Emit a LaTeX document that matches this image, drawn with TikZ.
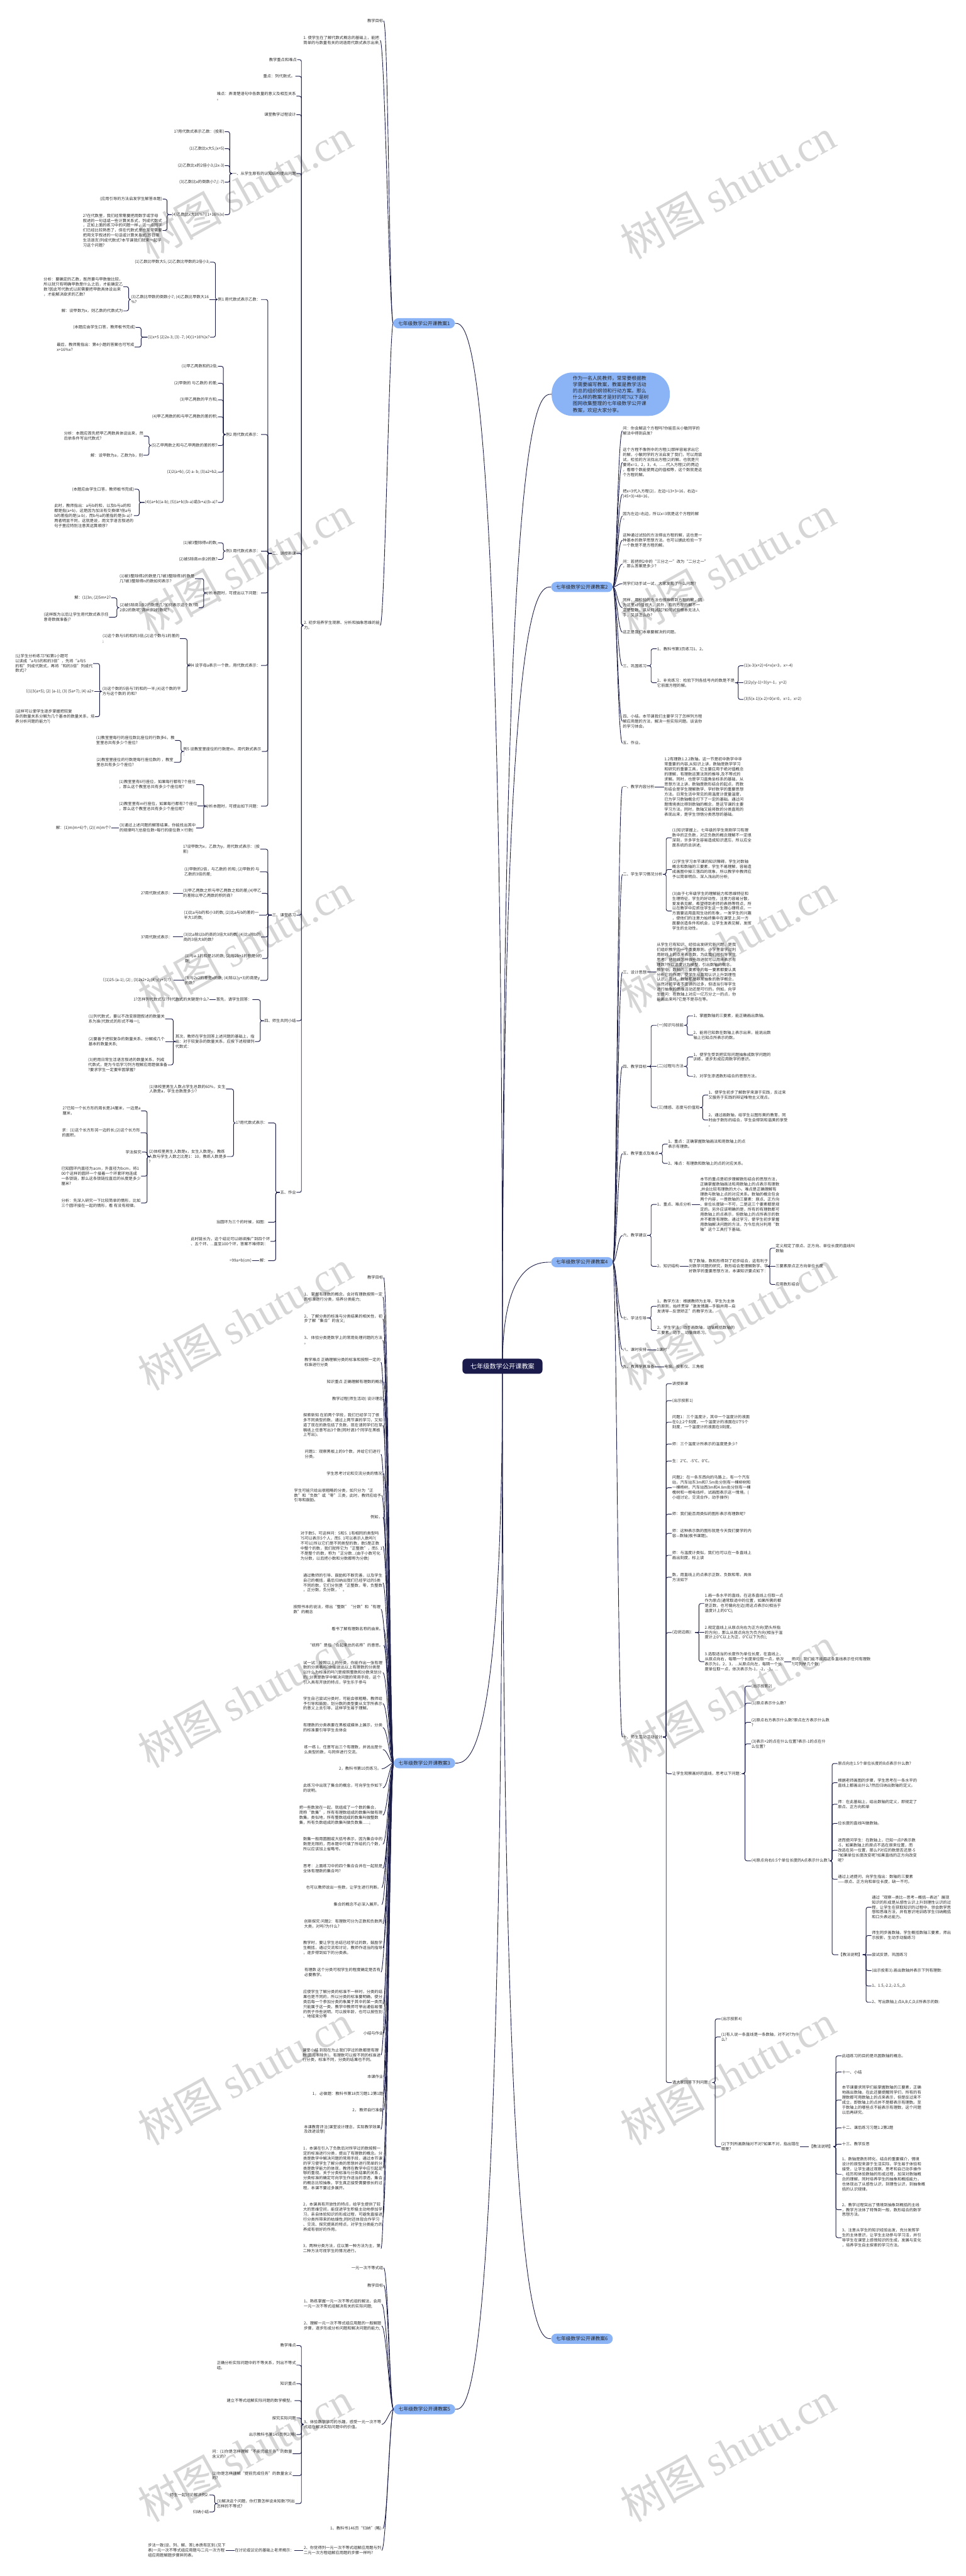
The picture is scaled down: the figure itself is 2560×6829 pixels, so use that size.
\documentclass[tikz,border=0pt]{standalone}
\usepackage{fontspec}
\usetikzlibrary{backgrounds}
\newfontfamily\cjk{Noto Sans CJK SC}
\newfontfamily\wmfont{Liberation Serif}
\definecolor{linec}{RGB}{28,30,72}
\definecolor{pillc}{RGB}{139,180,247}
\definecolor{cenc}{RGB}{26,27,75}
\definecolor{txtc}{RGB}{45,45,45}
\definecolor{wmc}{RGB}{214,214,214}
\tikzset{
  tx/.style={font=\cjk\fontsize{10.5}{13.2}\selectfont, align=left, inner sep=1pt, text=txtc},
  lt/.style={tx, anchor=east},
  rt/.style={tx, anchor=west},
  pill/.style={fill=pillc, rounded corners=13.5pt, minimum height=27pt, inner xsep=13pt, inner ysep=0pt, font=\cjk\fontsize{13}{15}\selectfont, text=black!85},
  conn/.style={draw=linec, line width=1.6pt, rounded corners=5pt},
  curv/.style={draw=linec, line width=1.5pt},
  wmk/.style={rotate=29, text=wmc, inner sep=0pt},
}
\newcommand\LB[3]{\draw[conn] (#1.west) -- (#3,0 |- #1.west) |- (#2.east);}
\newcommand\RB[3]{\draw[conn] (#1.east) -- (#3,0 |- #1.east) |- (#2.west);}
\newcommand\LS[2]{\draw[conn] (#1.west) -- (#2.east);}
\newcommand\RS[2]{\draw[conn] (#1.east) -- (#2.west);}
\newcommand\LC[2]{\draw[curv] (#1.west) .. controls +(-10,0) and +(12,0) .. (#2.east);}
\newcommand\RC[2]{\draw[curv] (#1.east) .. controls +(10,0) and +(-12,0) .. (#2.west);}
\begin{document}
\begin{tikzpicture}[x=1pt,y=-1pt]
\useasboundingbox (0,0) rectangle (2560,6829);
% ---------- central, pills, bubble
\node[fill=cenc, rounded corners=10pt, text=white, minimum height=40pt, inner xsep=21pt, font=\cjk\fontsize{17}{19}\selectfont] (C) at (1332,3622) {七年级数学公开课教案};
\node[pill, anchor=east] (P1) at (1206,857) {七年级数学公开课教案1};
\node[pill, anchor=east] (P3) at (1207,4674) {七年级数学公开课教案3};
\node[pill, anchor=east] (P5) at (1207,6387) {七年级数学公开课教案5};
\node[pill, anchor=west] (P2) at (1461,1556) {七年级数学公开课教案2};
\node[pill, anchor=west] (P4) at (1461,3346) {七年级数学公开课教案4};
\node[pill, anchor=west] (P6) at (1461,6200) {七年级数学公开课教案6};
\node[fill=pillc, rounded corners=55pt, minimum height=115pt, inner xsep=56pt, align=left, text=black!85, font=\cjk\fontsize{13}{17}\selectfont] (BB) at (1619,1045) {作为一名人民教师，常常要根据教\\学需要编写教案，教案是教学活动\\的总的组织纲领和行动方案。那么\\什么样的教案才是好的呢?以下是树\\图网收集整理的七年级数学公开课\\教案，欢迎大家分享。};

% ---------- branch 1
\node[lt] (b1) at (1017,55) {教学目标};
\node[lt] (b2) at (1008,107) {1. 使学生在了解代数式概念的基础上，能把\\简单的与数量有关的词语用代数式表示出来;};
\node[lt] (b3) at (1008,1658) {2. 初步培养学生观察、分析和抽象思维的能\\力。};
\node[lt] (c1) at (788,158) {教学重点和难点};
\node[lt] (c2) at (783,202) {重点：列代数式。};
\node[lt] (c3) at (786,255) {难点：弄清楚语句中各数量的意义及相互关系\\。};
\node[lt] (c4) at (786,304) {课堂教学过程设计};
\node[lt] (c5) at (786,460) {一、从学生原有的认知结构提出问题};
\node[lt] (c6) at (786,1467) {二、讲授新课};
\node[lt] (c7) at (786,2426) {三、课堂练习};
\node[lt] (c8) at (786,2706) {四、师生共同小结};
\node[lt] (c9) at (786,3161) {五、作业};
\node[lt] (d1) at (596,349) {1?用代数式表示乙数：(投影)};
\node[lt] (d2) at (596,394) {(1)乙数比x大5;(x+5)};
\node[lt] (d3) at (596,439) {(2)乙数比x的2倍小3;(2x-3)};
\node[lt] (d4) at (596,483) {(3)乙数比x的倒数小7;( -7)};
\node[lt] (d5) at (596,569) {(4)乙数比x大16\%?((1+16\%)x)};
\node[lt] (e1) at (431,528) {(应用引导的方法启发学生解答本题)};
\node[lt] (e2) at (431,611) {2?在代数里，我们经常需要把用数字或字母\\叙述的一句话或一些计算关系式，列成代数式\\，正如上面的练习中的问题一样，这一点同学\\们已经比较熟悉了，但在代数式里也常常需要\\把用文字叙述的一句话或计算关系式(即日常\\生活语言)列成代数式?本节课我们就来一起学\\习这个问题?};
\node[lt] (f1) at (692,794) {例1 用代数式表示乙数：};
\node[lt] (f2) at (692,1152) {例2 用代数式表示：};
\node[lt] (f3) at (692,1461) {例3 用代数式表示：};
\node[lt] (f4) at (692,1572) {分析本题时，可提出以下问题：};
\node[lt] (f5) at (692,1764) {例4 设字母a表示一个数，用代数式表示：};
\node[lt] (f6) at (694,1992) {例5 设教室里座位的行数是m，用代数式表示\\：};
\node[lt] (f7) at (692,2137) {分析本题时，可提出如下问题：};
\node[lt] (g1) at (557,695) {(1)乙数比甲数大5; (2)乙数比甲数的2倍小3;};
\node[lt] (g2) at (555,794) {(3)乙数比甲数的倒数小7; (4)乙数比甲数大16\\\%?};
\node[lt] (g3) at (557,894) {(1)x+5 (2)2x-3; (3) -7; (4)(1+16\%)x?};
\node[lt] (h1) at (327,760) {分析：要确定的乙数，既然要与甲数做比较，\\所以就只有明确甲数是什么之后，才能确定乙\\数?因此写代数式以前需要把甲数具体设出来\\，才能解决欲求的乙数?};
\node[lt] (h2) at (327,824) {解：设甲数为x，则乙数的代数式为};
\node[lt] (h3) at (360,868) {(本题应由学生口答，教师板书完成)};
\node[lt] (h4) at (357,920) {最后，教师需指出：第4小题的答案也可写成\\x+16\%x?};
\node[lt] (g4) at (578,971) {(1)甲乙两数和的2倍;};
\node[lt] (g5) at (578,1016) {(2)甲数的 与乙数的 的差;};
\node[lt] (g6) at (578,1060) {(3)甲乙两数的平方和;};
\node[lt] (g7) at (578,1105) {(4)甲乙两数的和与甲乙两数的差的积;};
\node[lt] (g8) at (578,1181) {(5)乙甲两数之和与乙甲两数的差的积?};
\node[lt] (g9) at (578,1252) {(1)2(a+b); (2) a- b; (3)a2+b2;};
\node[lt] (g10) at (578,1332) {(4)(a+b)(a-b); (5)(a+b)(b-a)或(b+a)(b-a)?};
\node[lt] (h5) at (381,1156) {分析：本题应首先把甲乙两数具体设出来，然\\后依条件写出代数式?};
\node[lt] (h6) at (380,1207) {解：设甲数为a，乙数为b，则};
\node[lt] (h7) at (357,1297) {(本题应由学生口答，教师板书完成)};
\node[lt] (h8) at (355,1367) {此时，教师指出：a与b的和，以及b与a的和\\都是指(a+b)，这是因为加法有交换律?但a与\\b的差指的是(a-b)，而b与a的差指的是(b-a)?\\两者明显不同，这就是说，用文字语言叙述的\\句子里应特别注意其运算顺序?};
\node[lt] (g11) at (578,1439) {(1)被3整除得n的数;};
\node[lt] (g12) at (578,1483) {(2)被5除商m余2的数?};
\node[lt] (g13) at (517,1534) {(1)被3整除得2的数是几?被3整除得3的数是\\几?被3整除得n的数如何表示?};
\node[lt] (g14) at (527,1611) {(2)被5除商1余2的数是几?如何表示这个数?商\\2余2的数呢?商m余2的数呢?};
\node[lt] (h9) at (295,1585) {解：(1)3n; (2)5m+2?};
\node[lt] (h10) at (289,1636) {(这样既为以后让学生用代数式表示任\\意奇数做准备)?};
\node[lt] (g15) at (477,1693) {(1)这个数与5的和的3倍;(2)这个数与1的差的\\;};
\node[lt] (g16) at (481,1833) {(3)这个数的5倍与7的和的一半;(4)这个数的平\\方与这个数的 的和?};
\node[lt] (h11) at (247,1759) {(让学生分析练习?如第1小题可\\以读成“a与5的和的3倍”，先将“a与5\\的和”列成代数式，再将“和的3倍”列成代\\数式)?};
\node[lt] (h12) at (250,1833) {〔(1)3(a+5); (2) (a-1); (3) (5a+7); (4) a2+};
\node[lt] (h13) at (252,1900) {(这样可以使学生逐步掌握把较复\\杂的数量关系分解为几个基本的数量关系，培\\养分析问题的能力?)};
\node[lt] (g17) at (464,1963) {(1)教室里每行的座位数比座位的行数多6，教\\室里总共有多少个座位?};
\node[lt] (g18) at (461,2021) {(2)教室里座位的行数是每行座位数的 ，教室\\里总共有多少个座位?};
\node[lt] (g19) at (520,2080) {(1)教室里有6行座位，如果每行都有7个座位\\，那么这个教室总共有多少个座位呢?};
\node[lt] (g20) at (524,2137) {(2)教室里有m行座位，如果每行都有7个座位\\，那么这个教室总共有多少个座位呢?};
\node[lt] (g21) at (520,2195) {(3)通过上述问题的解答结果，你能找出其中\\的规律吗?(总座位数=每行的座位数×行数)};
\node[lt] (h14) at (295,2195) {解：(1)m(m+6)个; (2)( m)m个?};
\node[lt] (i1) at (690,2251) {1?设甲数为x，乙数为y，用代数式表示：(投\\影)};
\node[lt] (i2) at (689,2311) {(1)甲数的2倍，与乙数的 的和; (2)甲数的 与\\乙数的3倍的差;};
\node[lt] (i3) at (694,2368) {(3)甲乙两数之积与甲乙两数之和的差;(4)甲乙\\的差除以甲乙两数的积的商?};
\node[lt] (i4) at (687,2426) {(1)比a与b的和小3的数; (2)比a与b的差的一\\半大1的数;};
\node[lt] (i5) at (692,2484) {(3)比a除以b的商的3倍大8的数; (4)比a除b的\\商的3倍大8的数?};
\node[lt] (i6) at (695,2541) {(1)与a-1的和是25的数; (2)与2b+1的积是9的\\数;};
\node[lt] (i7) at (690,2599) {(3)与2x2的差是x的数; (4)除以(y+3)的商是y\\的数?};
\node[lt] (j1) at (459,2368) {2?用代数式表示：};
\node[lt] (j2) at (459,2484) {3?用代数式表示：};
\node[lt] (j3) at (460,2599) {〔(1)25-(a-1); (2) ; (3)2x2+2; (4)y(y+3)?〕};
\node[lt] (k1) at (669,2650) {首先，请学生回答：};
\node[lt] (k1a) at (555,2650) {1?怎样列代数式?2?列代数式的关键是什么?};
\node[lt] (k2) at (676,2761) {其次，教师在学生回答上述问题的基础上，指\\出：对于较复杂的数量关系，应按下述规律列\\代数式：};
\node[lt] (k2a) at (438,2701) {(1)列代数式，要以不改变原题叙述的数量关\\系为准(代数式的形式不唯一);};
\node[lt] (k2b) at (438,2761) {(2)要善于把较复杂的数量关系，分解成几个\\基本的数量关系;};
\node[lt] (k2c) at (445,2823) {(3)把用日常生活语言叙述的数量关系，列成\\代数式，是为今后学习列方程解应用题做准备\\?要求学生一定要牢固掌握?};
\node[lt] (l1) at (711,2977) {1?用代数式表示：};
\node[lt] (l1a) at (599,2887) {(1)体校里男生人数占学生总数的60\%，女生\\人数是a，学生总数是多少?};
\node[lt] (l1b) at (602,3066) {(2)体校里男生人数是x，女生人数是y，教练\\人数与学生人数之比是1：10，教练人数是多\\?};
\node[lt] (m1) at (374,2945) {2?已知一个长方形的周长是24厘米，一边是a\\厘米，};
\node[lt] (m2) at (373,3003) {求：(1)这个长方形另一边的长;(2)这个长方形\\的面积。};
\node[lt] (m3) at (376,3054) {学法探究};
\node[lt] (m4) at (374,3118) {已知圆环内直径为acm，外直径为bcm，将1\\00个这样的圆环一个接着一个环套环地连成\\一条锁链，那么这条锁链拉直后的长度是多少\\厘米?};
\node[lt] (m5) at (374,3189) {分析：先深入研究一下比较简单的情形，比如\\三个圆环接在一起的情形，看 有没有规律。};
\node[lt] (l2) at (711,3240) {当圆环为三个的时候，如图：};
\node[lt] (l3) at (717,3291) {此时链长为，这个结论可以继续推广到四个环\\、五个环、...直至100个环，答案不难得到：};
\node[lt] (l4) at (711,3342) {解：};
\node[lt] (l4a) at (668,3342) {=99a+b(cm)};

% ---------- branch 3
\node[lt] (q1) at (1017,3387) {教学目标};
\node[lt] (q2) at (1015,3438) {1、 掌握有理数的概念，会对有理数按照一定\\的标准进行分类，培养分类能力;};
\node[lt] (q3) at (1015,3496) {2、 了解分类的标准与分类结果的相关性，初\\步了解“集合”的含义;};
\node[lt] (q4) at (1015,3553) {3、 体验分类是数学上的常用处理问题的方法\\。};
\node[lt] (q5) at (1010,3611) {教学难点 正确理解分类的标准和按照一定的\\标准进行分类};
\node[lt] (q6) at (1017,3663) {知识重点 正确理解有理数的概念};
\node[lt] (q7) at (1017,3708) {教学过程(师生活动) 设计理念};
\node[lt] (q8) at (1015,3778) {探索新知 在前两个学段，我们已经学习了很\\多不同类型的数，通过上两节课的学习，又知\\道了现在的数包括了负数，现在请同学们在草\\稿纸上任意写出3个数(同时请3个同学在黑板\\上写出)。};
\node[lt] (q9) at (1010,3855) {问题1：观察黑板上的9个数，并给它们进行\\分类。};
\node[lt] (q10) at (1017,3906) {学生思考讨论和交流分类的情况.};
\node[lt] (q11) at (1012,3964) {学生可能只给出很粗略的分类，如只分为“正\\数”和“负数”或“零”三类，此时，教师应给予\\引导和鼓励。};
\node[lt] (q12) at (1015,4022) {例如，};
\node[lt] (q13) at (1015,4099) {对于数5，可这样问：5和5. 1有相同的类型吗\\?5可以表示5个人，而5. 1可以表示人数吗?(\\不可以)所以它们是不同类型的数，数5是正数\\中整个的数，我们就称它为“正整数”，而5. 1\\不是整个的数，称为“正分数...(由于小数可化\\为分数，以后把小数和分数都称为分数)};
\node[lt] (q14) at (1015,4196) {通过教师的引导、鼓励和不断完善，以及学生\\自己的概括，最后归纳出我们已经学过的5类\\不同的数，它们分别是“正整数，零，负整数\\，正分数，负分数，’。};
\node[lt] (q15) at (1010,4266) {按照书本的说法，得出“整数”“分数”和“有理\\数”的概念};
\node[lt] (q16) at (1017,4318) {看书了解有理数名称的由来。};
\node[lt] (q17) at (1017,4362) {“统称”是指“合起来总的名称”的意思。};
\node[lt] (q18) at (1015,4434) {试一试：按照以上的分类，你能作出一张有理\\数的分类表吗?你能说出以上有理数的分类是\\以什么为标准的吗?(是按照整数和分数来划分\\的) 分类是数学中解决问题的常用手段，这个\\引入具有开放的特点，学生乐于参与};
\node[lt] (q19) at (1015,4516) {学生自己尝试分类时，可能会很粗略，教师给\\予引导和鼓励，划分数的类型要从文字所表示\\的意义上去引导，这样学生易于理解。};
\node[lt] (q20) at (1015,4580) {有理数的分类表要在黑板或媒体上展示，分类\\的标准要引导学生去体会};
\node[lt] (q21) at (1015,4638) {练一练 1，任意写出三个有理数，并说出是什\\么类型的数，与同伴进行交流。};
\node[lt] (q22) at (1012,4689) {2，教科书第10页练习。};
\node[lt] (q23) at (1015,4740) {此练习中出现了集合的概念，可向学生作如下\\的说明。};
\node[lt] (q24) at (1015,4812) {把一些数放在一起，就组成了一个数的集合，\\简称“数集”，所有有理数组成的数集叫做有理\\数集。类似地，所有整数组成的数集叫做整数\\集，所有负数组成的数集叫做负数集......;};
\node[lt] (q25) at (1015,4889) {数集一般用圆圈或大括号表示，因为集合中的\\数是无限的，而本题中只填了所给的几个数，\\所以应该加上省略号。};
\node[lt] (q26) at (1015,4953) {思考：上面练习中的四个集合合并在一起就是\\全体有理数的集合吗?};
\node[lt] (q27) at (1012,5004) {也可以教师说出一些数，让学生进行判断。};
\node[lt] (q28) at (1012,5049) {集合的概念不必深入展开。};
\node[lt] (q29) at (1015,5100) {创新探究 问题2：有理数可分为正数和负数两\\大类，对吗?为什么?};
\node[lt] (q30) at (1015,5164) {教学时，要让学生总结已经学过的数，鼓励学\\生概括，通过交流和讨论，教师作适当的指导\\，逐步得到如下的分类表。};
\node[lt] (q31) at (1010,5228) {有理数 这个分类可视学生的程度确定是否有\\必要教学。};
\node[lt] (q32) at (1015,5313) {应使学生了解分类的标准不一样时，分类的结\\果也是不同的，所以分类的标准要明确，使分\\类后每一个参加分类的象属于其中的某一类而\\只能属于这一类，教学中教师可举出通俗易懂\\的例子作些说明，可以按年龄，也可以按性别\\、地域来分等};
\node[lt] (q33) at (1017,5390) {小结与作业};
\node[lt] (q34) at (1010,5448) {课堂小结 到现在为止我们学过的数都是有理\\数(圆周率除外)，有理数可以按不同的标准进\\行分类，标准不同，分类的结果也不同。};
\node[lt] (q35) at (1017,5505) {本课作业};
\node[lt] (q36) at (1017,5550) {1， 必做题：教科书第18页习题1.2第1题};
\node[lt] (q37) at (1017,5594) {2， 教师自行准备};
\node[lt] (q38) at (1010,5645) {本课教育评注(课堂设计理念，实际教学效果\\及改进设想)};
\node[lt] (q39) at (1015,5748) {1，本课在引入了负数后对所学过的数按照一\\定的标准进行分类，提出了有理数的概念。分\\类是数学中解决问题的常用手段，通过本节课\\的学习使学生了解分类的思想并进行简单的分\\类是数学能力的体现，教师在教学中应引起足\\够的重视。关于分类标准与分类结果的关系，\\分类标准的确定可向学生作适当的渗透，集合\\的概念比较抽象，学生真正接受需要很长的过\\程，本课不要过多展开。};
\node[lt] (q40) at (1015,5877) {2，本课具有开放性的特点，给学生提供了较\\大的思维空间，能促进学生积极主动地参加学\\习，亲自体验知识的形成过程，可避免直接进\\行分类所带来的枯燥性;同时还体现合作学习\\、交流、探究提高的特点，对学生分类能力的\\养成有很好的作用。};
\node[lt] (q41) at (1010,5961) {3，两种分类方法，应以第一种方法为主，第\\二种方法可视学生的情况进行。};

% ---------- branch 5
\node[lt] (r1) at (1017,6012) {一元一次不等式组};
\node[lt] (r2) at (1017,6058) {教学目标};
\node[lt] (r3) at (1012,6108) {1、熟练掌握一元一次不等式组的解法，会用\\一元一次不等式组解决有关的实际问题;};
\node[lt] (r4) at (1012,6166) {2、理解一元一次不等式组应用题的一般解题\\步骤，逐步形成分析问题和解决问题的能力;};
\node[lt] (r5) at (1012,6427) {3、体验数学学习的乐趣，感受一元一次不等\\式组在解决实际问题中的价值。};
\node[lt] (r6) at (1015,6703) {1、教科书146页“归纳”(略).};
\node[lt] (r7) at (1012,6761) {2、你觉得列一元一次不等式组解应用题与列\\二元一次方程组解应用题的步骤一样吗?};
\node[lt] (s1) at (786,6218) {教学难点};
\node[lt] (s2) at (786,6270) {正确分析实际问题中的不等关系，列出不等式\\组。};
\node[lt] (s3) at (786,6319) {知识重点};
\node[lt] (s4) at (781,6364) {建立不等式组解实际问题的数学模型。};
\node[lt] (s5) at (786,6410) {探究实际问题};
\node[lt] (s6) at (786,6454) {出示教科书第145页例2(略)};
\node[lt] (s7) at (776,6505) {问：(1)你是怎样理解“不能完成任务”的数量\\含义的?};
\node[lt] (s8) at (776,6563) {(2)你是怎样理解“提前完成任务”的数量含义\\的?};
\node[lt] (s9) at (783,6637) {(3)解决这个问题，你打算怎样设未知数?列出\\怎样的不等式?};
\node[lt] (s10) at (555,6614) {师生一起讨论解决例2.};
\node[lt] (s11) at (555,6659) {归纳小结};
\node[lt] (o1) at (781,6761) {在讨论或议论的基础上老师揭示：};
\node[lt] (o2) at (599,6761) {步法一致(设、列、解、答);本质有区别.(见下\\表)一元一次不等式组应用题与二元一次方程\\组应用题解题步骤异同表。};

% ---------- branch 2
\node[rt] (u1) at (1650,1142) {问：你会解这个方程吗?你能否从小敏同学的\\解法中得到启发?};
\node[rt] (u2) at (1650,1226) {这个方程不像例中的方程(1)那样容易求出它\\的解，小敏同学的方法启发了我们，可以用尝\\试，检验的方法找出方程(2)的解。也就是只\\要将x=1，2，3，4，......代入方程(2)的两边\\，看哪个数能使两边的值相等，这个数就是这\\个方程的解。};
\node[rt] (u3) at (1650,1310) {把x=3代入方程(2)，左边=13+3=16，右边=\\(45+3)=48=16，};
\node[rt] (u4) at (1650,1368) {因为左边=右边，所以x=3就是这个方程的解\\。};
\node[rt] (u5) at (1650,1432) {这种通过试验的方法得出方程的解，这也是一\\种基本的数学思想方法。也可以据此检验一下\\一个数是不是方程的解。};
\node[rt] (u6) at (1650,1495) {问：若把例2中的“三分之一”改为“二分之一”\\，那么答案是多少?};
\node[rt] (u7) at (1650,1547) {同学们动手试一试，大家发现了什么问题?};
\node[rt] (u8) at (1650,1611) {同样，用检验的方法也很难得到方程的解，因\\为这里x的值很大。另外，有的方程的解不一\\定是整数，该从何试起?如何试验根本无法人\\手，又该怎么办?};
\node[rt] (u9) at (1650,1676) {这正是我们本章要解决的问题。};
\node[rt] (u10) at (1650,1765) {三、巩固练习};
\node[rt] (u11) at (1650,1912) {四、小结。本节课我们主要学习了怎样列方程\\解应用题的方法，解决一些实际问题。谈谈你\\的学习体会。};
\node[rt] (u12) at (1650,1970) {五、作业。};
\node[rt] (v1) at (1741,1720) {1、教科书第3页练习1、2。};
\node[rt] (v2) at (1741,1810) {2、补充练习：检验下列各括号内的数是不是\\它前面方程的解。};
\node[rt] (v3) at (1971,1765) {(1)x-3(x+2)=6+x(x=3，x=-4)};
\node[rt] (v4) at (1971,1810) {(2)2y(y-1)=3(y=-1，y=2)};
\node[rt] (v5) at (1971,1854) {(3)5(x-1)(x-2)=0(x=0，x=1，x=2)};

% ---------- branch 4
\node[rt] (w1) at (1650,2086) {一、教学内容分析};
\node[rt] (w1a) at (1760,2086) {1.2有理数1.2.2数轴。这一节是初中数学中非\\常重要的内容,从知识上讲，数轴是数学学习\\和研究的重要工具，它主要应用于绝对值概念\\的理解，有理数运算法则的推导,及不等式的\\求解。同时，也是学习直角坐标系的基础，从\\思想方法上讲，数轴是数形结合的起点，而数\\形结合是学生理解数学、学好数学的重要思想\\方法。日常生活中常见的用温度计度量温度，\\已为学习数轴概念打下了一定的基础。通过问\\题情境类比得到数轴的概念，是这节课的主要\\学习方法。同时，数轴又能将数的分类直观的\\表现出来，是学生领悟分类思想的基础。};
\node[rt] (w2) at (1650,2318) {二、学生学习情况分析};
\node[rt] (w2a) at (1781,2221) {(1)知识掌握上，七年级的学生刚刚学习有理\\数中的正负数，对正负数的概念理解不一定很\\深刻，许多学生容易造成知识遗忘，所以应全\\面系统的去讲述;};
\node[rt] (w2b) at (1781,2305) {(2)学生学习本节课的知识障碍。学生对数轴\\概念和数轴的三要素，学生不易理解，容易造\\成画图中掉三落四的现象，所以教学中教师应\\予以简单明白、深入浅出的分析;};
\node[rt] (w2c) at (1781,2415) {(3)由于七年级学生的理解能力和思维特征和\\生理特征，学生的好动性，注意力容易分散，\\爱发表见解，希望得到老师的表扬等特点，所\\以在教学中应抓住学生这一生理心理特点，一\\方面要运用直观生动的形象，一发学生的兴趣\\，使他们的注意力始终集中在课堂上;另一方\\面要创造条件和机会，让学生发表见解，发挥\\学生的主动性。};
\node[rt] (w3) at (1650,2577) {三、设计思想};
\node[rt] (w3a) at (1740,2577) {从学生已有知识、经验出发研究新问题，是我\\们组织教学的一个重要原则。小学里曾学过利\\用射线上的点来表示数，为此我们可引导学生\\思考：把射线怎样做些改进就可以用来表示有\\理数?作以温度计为模型，引出数轴的概念。\\教学中，数轴的三要素中的每一要素都要认真\\分析它的作用，使学生从直观认识上升到理性\\认识。直线、数轴都是非常抽象的数学概念，\\当然对初学者不宜讲的过多，但适当引导学生\\进行抽象的思维活动还是可行的。例如，向学\\生提问：在数轴上对应一亿万分之一的点，你\\能画出来吗?它是不是存在等。};
\node[rt] (w4) at (1650,2827) {四、教学目标};
\node[rt] (w4a) at (1741,2718) {(一)知识与技能};
\node[rt] (w4b) at (1741,2827) {(二)过程与方法};
\node[rt] (w4c) at (1741,2936) {(三)情感、态度与价值观};
\node[rt] (w4a1) at (1837,2693) {1、掌握数轴的三要素，能正确画出数轴。};
\node[rt] (w4a2) at (1837,2744) {2、能将已知数在数轴上表示出来，能说出数\\轴上已知点所表示的数。};
\node[rt] (w4b1) at (1837,2802) {1、使学生受到把实际问题抽象成数学问题的\\训练，逐步形成应用数学的意识。};
\node[rt] (w4b2) at (1837,2853) {2、对学生渗透数形结合的思想方法。};
\node[rt] (w4c1) at (1877,2903) {1、使学生初步了解数学来源于实践，反过来\\又服务于实践的辩证唯物主义观点。};
\node[rt] (w4c2) at (1877,2969) {2、通过画数轴，给学生以图形美的教育，同\\时由于数形的结合，学生会得到和谐美的享受\\。};
\node[rt] (w5) at (1650,3058) {五、教学重点及难点};
\node[rt] (w5a) at (1770,3033) {1、重点：正确掌握数轴画法和用数轴上的点\\表示有理数。};
\node[rt] (w5b) at (1770,3084) {2、难点：有理数和数轴上的点的对应关系。};
\node[rt] (w6) at (1650,3275) {六、教学建议};
\node[rt] (w6a) at (1741,3193) {1、重点、难点分析};
\node[rt] (w6a1) at (1855,3193) {本节的重点是初步理解数形结合的思想方法，\\正确掌握数轴画法和用数轴上的点表示有理数\\,并会比较有理数的大小。难点是正确理解有\\理数与数轴上点的对应关系。数轴的概念包含\\两个内容，一是数轴的三要素：原点、正方向\\、单位长度缺一不可，二是这三个要素都是规\\定的。另外应该明确的是，所有的有理数都可\\用数轴上的点表示，但数轴上的点所表示的数\\并不都是有理数。通过学习，使学生初步掌握\\用数轴解决问题的方法，为今后充分利用“数\\轴”这个工具打下基础。};
\node[rt] (w6b) at (1741,3357) {2、知识结构};
\node[rt] (w6b1) at (1825,3357) {有了数轴，数和形得到了初步结合，这有利于\\对数学问题的研究，数形结合是理解数学、学\\好数学的重要思想方法，本课知识要点如下：};
\node[rt] (w6b2) at (2055,3309) {定义规定了原点、正方向、单位长度的直线叫\\数轴};
\node[rt] (w6b3) at (2055,3357) {三要素原点正方向单位长度};
\node[rt] (w6b4) at (2055,3405) {应用数形结合};
\node[rt] (w7) at (1650,3494) {七、学法引导};
\node[rt] (w7a) at (1741,3463) {1、教学方法：根据教师为主导，学生为主体\\的原则，始终贯穿“激发情趣—手脑并用—启\\发诱导—反馈矫正”的教学方法。};
\node[rt] (w7b) at (1741,3527) {2、学生学法：动手画数轴，动脑概括数轴的\\三要素，动手、动脑做练习。};
\node[rt] (w8) at (1650,3578) {八、课时安排};
\node[rt] (w8a) at (1740,3578) {1课时};
\node[rt] (w9) at (1650,3623) {九、教具学具准备};
\node[rt] (w9a) at (1760,3623) {电脑、投影仪、三角板};
\node[rt] (w10) at (1650,4605) {十、师生互动活动设计};
\node[rt] (x1) at (1781,3668) {讲授新课};
\node[rt] (x2) at (1781,3713) {(出示投影1)};
\node[rt] (x3) at (1781,3770) {问题1：三个温度计，其中一个温度计的液面\\在0上2个刻度，一个温度计的液面在0下5个\\刻度，一个温度计的液面在0刻度。};
\node[rt] (x4) at (1781,3828) {师：三个温度计所表示的温度是多少?};
\node[rt] (x5) at (1781,3873) {生：2℃、-5℃、0℃。};
\node[rt] (x6) at (1781,3944) {问题2：在一条东西向的马路上，有一个汽车\\站，汽车站东3m和7.5m处分别有一棵柳树和\\一棵杨树，汽车站西3m和4.8m处分别有一棵\\槐树和一根电线杆，试画图表示这一情境。(\\小组讨论，交流合作，动手操作)};
\node[rt] (x7) at (1781,4014) {师：我们能否用类似的图形表示有理数呢?};
\node[rt] (x8) at (1781,4065) {师：这种表示数的图形就是今天我们要学的内\\容—数轴(板书课题)。};
\node[rt] (x9) at (1781,4123) {师：与温度计类似，我们也可以在一条直线上\\画出刻度，标上读};
\node[rt] (x10) at (1781,4181) {数，用直线上的点表示正数、负数和零。具体\\方法如下};
\node[rt] (x11) at (1781,4328) {(边说边画)：};
\node[rt] (x12) at (1781,4702) {让学生观察画好的直线，思考以下问题：};
\node[rt] (x13) at (1781,5521) {请大家回答下列问题：};
\node[rt] (y1) at (1867,4251) {1.画一条水平的直线，在这条直线上任取一点\\作为原点(通常取适中的位置，如果所需的都\\是正数，也可偏向左边)用这点表示0(相当于\\温度计上的0℃);};
\node[rt] (y2) at (1867,4328) {2.规定直线上从原点向右为正方向(箭头所指\\的方向)，那么从原点向左为负方向(相当于温\\度计上0℃以上为正，0℃以下为负);};
\node[rt] (y3) at (1867,4405) {3.选取适当的长度作为单位长度，在直线上，\\从原点向右，每隔一个长度单位取一点，依次\\表示为1，2，3，...从原点向左，每隔一个长\\度单位取一点，依次表示为-1，-2，-3，...};
\node[rt] (y3a) at (2097,4405) {师问：我们能不能用这条直线表示任何有理数\\?(可列举几个数)};
\node[rt] (z1) at (1991,4470) {(出示投影2)};
\node[rt] (z2) at (1991,4515) {(1)原点表示什么数?};
\node[rt] (z3) at (1991,4566) {(2)原点右方表示什么数?原点左方表示什么数\\?};
\node[rt] (z4) at (1991,4623) {(3)表示+2的点在什么位置?表示-1的点在什\\么位置?};
\node[rt] (z5) at (1991,4933) {(4)原点向右0.5个单位长度的A点表示什么数?};
\node[rt] (z6) at (2220,4675) {原点向左1.5个单位长度的B点表示什么数?};
\node[rt] (z7) at (2220,4726) {根据老师画图的步骤，学生思考在一条水平的\\直线上都画出什么?然后归纳出数轴的定义。};
\node[rt] (z8) at (2220,4783) {师：在此基础上，给出数轴的定义，即规定了\\原点、正方向和单};
\node[rt] (z9) at (2220,4834) {位长度的直线叫做数轴。};
\node[rt] (z10) at (2220,4905) {进而提问学生：在数轴上，已知一点P表示数\\-5，如果数轴上的原点不选在原来位置，而\\改选在另一位置，那么P对应的数是否还是-5\\?如果单位长度改变呢?如果直线的正方向改变\\呢?};
\node[rt] (z11) at (2220,4982) {通过上述提问，向学生指出：数轴的三要素\\——原点、正方向和单位长度，缺一不可。};
\node[rt] (z12) at (2222,5182) {【教法说明】};
\node[rt] (za) at (2310,5056) {通过“观察—类比—思考—概括—表达”展现\\知识的形成是从感性认识上升到理性认识的过\\程，让学生在获取知识的过程中，领会数学思\\想和思维方法，并有意识地训练学生归纳概括\\和口头表达能力。};
\node[rt] (zb) at (2310,5131) {师生同步画数轴，学生概括数轴三要素，师出\\示投影，生动手动脑练习};
\node[rt] (zc) at (2310,5182) {尝试反馈，巩固练习};
\node[rt] (zd) at (2310,5224) {(出示投影3).画出数轴并表示下列有理数:};
\node[rt] (ze) at (2310,5265) {1、1.5,-2.2,-2.5,,,0.};
\node[rt] (zf) at (2310,5308) {2、写出数轴上点A,B,C,D,E所表示的数:};
\node[rt] (t1) at (1911,5352) {(出示投影4)};
\node[rt] (t2) at (1911,5400) {(1)有人说一条直线是一条数轴，对不对?为什\\么?};
\node[rt] (t3) at (1911,5691) {(2)下列所画数轴对不对?如果不对，指出错在\\哪里?};
\node[rt] (t4) at (2144,5691) {【教法说明】};
\node[rt] (t5) at (2231,5450) {此组练习的目的是巩固数轴的概念。};
\node[rt] (t6) at (2231,5493) {十一、小结};
\node[rt] (t7) at (2231,5567) {本节课要求同学们能掌握数轴的三要素，正确\\地画出数轴，在此还要提醒同学们，所有的有\\理数都可用数轴上的点来表示，但是反过来不\\成立，即数轴上的点并不是都表示有理数。至\\于数轴上的哪些点不能表示有理数，这个问题\\以后再研究。};
\node[rt] (t8) at (2231,5641) {十二、课后练习习题1.2第2题};
\node[rt] (t9) at (2231,5684) {十三、教学反思};
\node[rt] (t10) at (2231,5764) {1、数轴是数形转化、结合的重要媒介，情境\\设计的原型来源于生活实际，学生易于体验和\\接受，让学生通过观察、思考和自己动手操作\\、经历和体验数轴的形成过程，加深对数轴概\\念的理解，同时培养学生的抽象和概括能力，\\也体现出了从感性认识，到理性认识，到抽象概\\括的认识规律。};
\node[rt] (t11) at (2231,5858) {2、教学过程突出了情境到抽象到概括的主线\\，教学方法体了特殊到一般，数形结合的数学\\思想方法。};
\node[rt] (t12) at (2231,5932) {3、注意从学生的知识经验出发，充分发挥学\\生的主体意识，让学生主动参与学习活，并引\\导学生在课堂上感悟知识的生成，发展与变化\\，培养学生自主探索的学习方法。};

\begin{scope}[on background layer]
\fill[white] (0,0) rectangle (2560,6829);
\foreach \wy in {500,1500,2500,3500,4500,5500,6500}{
  \node[wmk] at (650,\wy) {\cjk\fontsize{112}{112}\selectfont 树图 \wmfont shutu.cn};
  \node[wmk] at (1930,\wy) {\cjk\fontsize{112}{112}\selectfont 树图 \wmfont shutu.cn};
}
% main curves
\draw[curv] (C.center) .. controls (C.center |- P1.east) and ([xshift=34pt]P1.east) .. (P1.east);
\draw[curv] (C.center) .. controls (C.center |- P3.east) and ([xshift=34pt]P3.east) .. (P3.east);
\draw[curv] (C.center) .. controls (C.center |- P5.east) and ([xshift=34pt]P5.east) .. (P5.east);
\draw[curv] (C.center) .. controls (C.center |- P2.west) and ([xshift=-36pt]P2.west) .. (P2.west);
\draw[curv] (C.center) .. controls (C.center |- P4.west) and ([xshift=-36pt]P4.west) .. (P4.west);
\draw[curv] (C.center) .. controls (C.center |- P6.west) and ([xshift=-36pt]P6.west) .. (P6.west);
\draw[curv] (C.center) .. controls (C.center |- BB.west) and ([xshift=-36pt]BB.west) .. (BB.west);
% level 1
\foreach \i in {1,2,3}{\LC{P1}{b\i}}
\foreach \i in {1,...,41}{\LC{P3}{q\i}}
\foreach \i in {1,...,7}{\LC{P5}{r\i}}
\foreach \i in {1,...,12}{\RC{P2}{u\i}}
\foreach \i in {1,...,10}{\RC{P4}{w\i}}
% branch 1 brackets
\foreach \n in {c1,c2,c3,c4,c5,c6,c7,c8,c9}{\LB{b3}{\n}{799}}
\foreach \n in {d1,d2,d3,d4,d5}{\LB{c5}{\n}{609}}
\foreach \n in {e1,e2}{\LB{d5}{\n}{443}}
\foreach \n in {f1,f2,f3,f4,f5,f6,f7}{\LB{c6}{\n}{710}}
\foreach \n in {g1,g3}{\LB{f1}{\n}{571}}
\LS{f1}{g2}
\foreach \n in {h1,h2}{\LB{g2}{\n}{341}}
\foreach \n in {h3,h4}{\LB{g3}{\n}{374}}
\foreach \n in {g4,g5,g6,g7,g8,g9,g10}{\LB{f2}{\n}{592}}
\foreach \n in {h5,h6}{\LB{g8}{\n}{395}}
\foreach \n in {h7,h8}{\LB{g10}{\n}{369}}
\foreach \n in {g11,g12}{\LB{f3}{\n}{592}}
\foreach \n in {g13,g14}{\LB{f4}{\n}{540}}
\foreach \n in {h9,h10}{\LB{g14}{\n}{310}}
\foreach \n in {g15,g16}{\LB{f5}{\n}{496}}
\foreach \n in {h11,h13}{\LB{g16}{\n}{264}}
\LS{g16}{h12}
\foreach \n in {g17,g18}{\LB{f6}{\n}{480}}
\foreach \n in {g19,g21}{\LB{f7}{\n}{540}}
\LS{f7}{g20}
\LS{g21}{h14}
\foreach \n in {i1,i2,i3,i4,i5,i6,i7}{\LB{c7}{\n}{710}}
\LS{i3}{j1} \LS{i5}{j2} \LS{i7}{j3}
\foreach \n in {k1,k2}{\LB{c8}{\n}{690}}
\LS{k1}{k1a}
\foreach \n in {k2a,k2c}{\LB{k2}{\n}{459}}
\LS{k2}{k2b}
\foreach \n in {l1,l2,l3,l4}{\LB{c9}{\n}{731}}
\foreach \n in {l1a,l1b}{\LB{l1}{\n}{619}}
\foreach \n in {m1,m2,m3,m4,m5}{\LB{l1b}{\n}{390}}
\LS{l4}{l4a}
% branch 5 brackets
\foreach \n in {s1,s2,s3,s4,s5,s6,s7,s8,s9}{\LB{r5}{\n}{799}}
\foreach \n in {s10,s11}{\LB{s9}{\n}{569}}
\LS{r7}{o1} \LS{o1}{o2}
% branch 2 brackets
\foreach \n in {v1,v2}{\RB{u10}{\n}{1726}}
\foreach \n in {v3,v5}{\RB{v2}{\n}{1957}}
\RS{v2}{v4}
% branch 4 brackets
\RS{w1}{w1a}
\foreach \n in {w2a,w2b,w2c}{\RB{w2}{\n}{1766}}
\RS{w3}{w3a}
\foreach \n in {w4a,w4c}{\RB{w4}{\n}{1726}}
\RS{w4}{w4b}
\foreach \n in {w4a1,w4a2}{\RB{w4a}{\n}{1822}}
\foreach \n in {w4b1,w4b2}{\RB{w4b}{\n}{1822}}
\foreach \n in {w4c1,w4c2}{\RB{w4c}{\n}{1863}}
\foreach \n in {w5a,w5b}{\RB{w5}{\n}{1756}}
\foreach \n in {w6a,w6b}{\RB{w6}{\n}{1726}}
\RS{w6a}{w6a1} \RS{w6b}{w6b1}
\foreach \n in {w6b2,w6b4}{\RB{w6b1}{\n}{2041}}
\RS{w6b1}{w6b3}
\foreach \n in {w7a,w7b}{\RB{w7}{\n}{1726}}
\RS{w8}{w8a} \RS{w9}{w9a}
\foreach \n in {x1,x2,x3,x4,x5,x6,x7,x8,x9,x10,x11,x12,x13}{\RB{w10}{\n}{1766}}
\foreach \n in {y1,y3}{\RB{x11}{\n}{1853}}
\RS{x11}{y2} \RS{y3}{y3a}
\foreach \n in {z1,z2,z3,z4,z5}{\RB{x12}{\n}{1975}}
\foreach \n in {z6,z7,z8,z9,z10,z11,z12}{\RB{z5}{\n}{2206}}
\foreach \n in {za,zb,zd,ze,zf}{\RB{z12}{\n}{2296}}
\RS{z12}{zc}
\foreach \n in {t1,t2,t3}{\RB{x13}{\n}{1896}}
\RS{t3}{t4}
\foreach \n in {t5,t6,t7,t8,t9,t10,t11,t12}{\RB{t4}{\n}{2216}}
\end{scope}
\end{tikzpicture}
\end{document}
